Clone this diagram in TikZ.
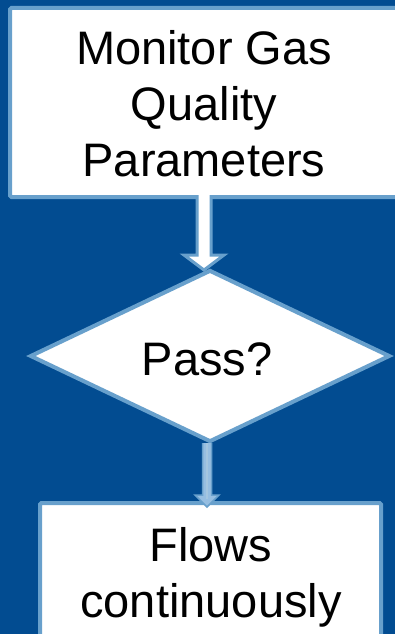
\documentclass[tikz,border=0pt]{standalone}
\usepackage{fontspec}
\setmainfont{Liberation Sans}
\usetikzlibrary{shapes.geometric,calc}
\definecolor{bgblue}{RGB}{2,76,145}
\definecolor{edgeblue}{RGB}{104,160,204}
\definecolor{paleblue}{RGB}{150,190,225}
\tikzset{
  boxstyle/.style={draw=edgeblue, line width=4pt, fill=white, rounded corners=1.5pt},
  txt/.style={font=\fontsize{47}{56}\selectfont, align=center, inner sep=0pt, text=black},
}
\begin{document}
\begin{tikzpicture}[x=1pt,y=-1pt]
\fill[bgblue] (0,0) rectangle (395,634);
\useasboundingbox (0,0) rectangle (395,634);
% top box
\draw[boxstyle] (10,8) rectangle (398,197);
\node[txt] (t1) at (204,104) {Monitor Gas\\Quality\\Parameters};
% diamond
\node[draw=edgeblue, line width=4pt, fill=white, shape=diamond, inner sep=0pt,
      minimum width=360pt, minimum height=172pt, aspect=2.09] (d) at (210,356) {};
\node[txt] (t2) at (207,359) {Pass?};
% bottom box
\draw[boxstyle] (40,503) rectangle (381,660);
\node[txt] (t3) at (211,577) {Flows\\continuously};
% arrow 1 (hollow block arrow)
\coordinate (a1) at (204,195);
\coordinate (a1t) at (204,270);
\draw[edgeblue, line width=3pt, fill=white, line join=miter]
  ($(a1)+(-7,0)$) -- ($(a1t)+(-7,-15)$) -- ($(a1t)+(-20,-15)$) -- (a1t)
  -- ($(a1t)+(20,-15)$) -- ($(a1t)+(7,-15)$) -- ($(a1)+(7,0)$);
% arrow 2
\coordinate (a2) at (207,443);
\coordinate (a2t) at (207,507);
\draw[edgeblue, line width=1.5pt, fill=paleblue, line join=miter]
  ($(a2)+(-4.5,0)$) -- ($(a2t)+(-4.5,-12)$) -- ($(a2t)+(-12,-12)$) -- (a2t)
  -- ($(a2t)+(12,-12)$) -- ($(a2t)+(4.5,-12)$) -- ($(a2)+(4.5,0)$);
\draw[edgeblue!60!white, line width=1.5pt] (a2) -- ($(a2t)+(0,-8)$);
\end{tikzpicture}
\end{document}
